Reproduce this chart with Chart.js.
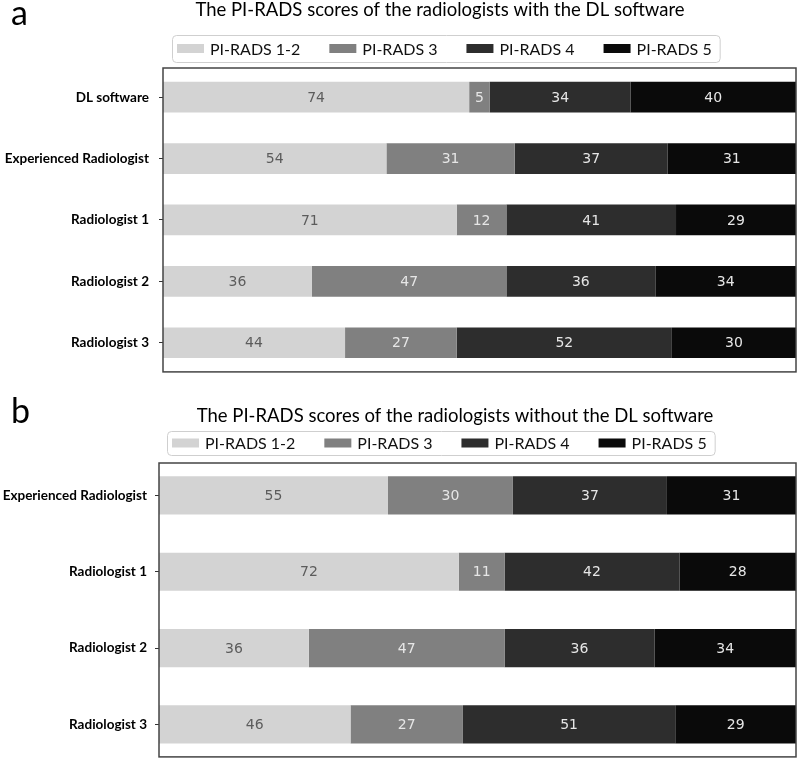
<!DOCTYPE html>
<html>
<head>
<meta charset="utf-8">
<script src="https://cdn.jsdelivr.net/npm/chart.js@4.4.0/dist/chart.umd.min.js"></script>
<style>
  body { margin: 0; background: #fff; }
  .panel { position: absolute; left: 0; width: 797px; }
  #panel-a { top: 0; height: 390px; }
  #panel-b { top: 390px; height: 383px; }
</style>
</head>
<body>
<div class="panel" id="panel-a"><canvas id="chart-a"></canvas></div>
<div class="panel" id="panel-b"><canvas id="chart-b"></canvas></div>
<script>
var seriesNames = ['PI-RADS 1-2', 'PI-RADS 3', 'PI-RADS 4', 'PI-RADS 5'];
var seriesColors = ['#d3d3d3', '#808080', '#2d2d2d', '#0a0a0a'];

/* a : with the DL software */
var readersA = ['DL software', 'Experienced Radiologist', 'Radiologist 1', 'Radiologist 2', 'Radiologist 3'];
var pirads12A = [74, 54, 71, 36, 44];
var pirads3A = [5, 31, 12, 47, 27];
var pirads4A = [34, 37, 41, 36, 52];
var pirads5A = [40, 31, 29, 34, 30];

/* b : without the DL software */
var readersB = ['Experienced Radiologist', 'Radiologist 1', 'Radiologist 2', 'Radiologist 3'];
var pirads12B = [55, 72, 36, 46];
var pirads3B = [30, 11, 47, 27];
var pirads4B = [37, 42, 36, 51];
var pirads5B = [31, 28, 34, 29];

/* frame round the plot area */
var framePlugin = {
    id: 'frame',
    afterDraw: function(chart){
        var a = chart.chartArea;
        var ctx = chart.ctx;
        ctx.save();
        ctx.strokeStyle = '#444';
        ctx.lineWidth = 1.5;
        ctx.strokeRect(a.left, a.top, a.right - a.left, a.bottom - a.top);
        ctx.restore();
    }
};

/* numbers inside each segment */
var barLabelPlugin = {
    id: 'barLabels',
    afterDatasetsDraw: function(chart){
        var ctx = chart.ctx;
        ctx.save();
        ctx.font = '14px "DejaVu Sans"';
        ctx.textAlign = 'center';
        ctx.textBaseline = 'middle';
        chart.data.datasets.forEach(function(ds, k){
            var meta = chart.getDatasetMeta(k);
            ctx.fillStyle = k == 0 ? '#5c5c5c' : '#e6e6e6';
            meta.data.forEach(function(el, i){
                ctx.fillText(String(ds.data[i].x), (el.x + el.base) / 2, el.y + 1);
            });
        });
        ctx.restore();
    }
};

/* panel letter, title and boxed legend */
var headerPlugin = {
    id: 'header',
    afterDraw: function(chart){
        var h = chart.options.plugins.header;
        var ctx = chart.ctx;
        ctx.save();
        ctx.fillStyle = '#000';
        ctx.textBaseline = 'alphabetic';
        ctx.font = '34px Lato';
        ctx.textAlign = 'left';
        ctx.fillText(h.letter, 11, h.letterY);
        ctx.font = '18.5px Lato';
        ctx.textAlign = 'center';
        ctx.fillText(h.title, h.titleX, h.titleY);

        ctx.font = '16px Lato';
        ctx.textAlign = 'left';
        ctx.textBaseline = 'middle';
        var swW = 27, swH = 9, gapIn = 6, gapOut = 29, padL = 5, padR = 8;
        var total = padL + padR;
        var widths = [];
        for(var i = 0; i < chart.data.datasets.length; i++){
            widths[i] = ctx.measureText(chart.data.datasets[i].label).width;
            total += swW + gapIn + widths[i];
            if(i > 0) total += gapOut;
        }
        var midY = (h.legendTop + h.legendBottom) / 2;
        ctx.strokeStyle = '#cfcfcf';
        ctx.lineWidth = 1;
        ctx.beginPath();
        ctx.roundRect(h.legendLeft + 0.5, h.legendTop + 0.5, total, h.legendBottom - h.legendTop, 4);
        ctx.stroke();
        var x = h.legendLeft + padL;
        for(var i = 0; i < chart.data.datasets.length; i++){
            var ds = chart.data.datasets[i];
            ctx.fillStyle = ds.backgroundColor;
            ctx.fillRect(x, midY - swH / 2, swW, swH);
            x += swW + gapIn;
            ctx.fillStyle = '#111';
            ctx.fillText(ds.label, x, midY + 1);
            x += widths[i] + gapOut;
        }
        ctx.restore();
    }
};

function makeChart(canvasId, readers, series, header, axisWidth, padding, tickPad){
    var datasets = [];
    for(var k = 0; k < series.length; k++){
        var pts = [];
        for(var i = 0; i < readers.length; i++){
            pts.push({x: series[k][i], y: i});
        }
        datasets.push({
            label: seriesNames[k],
            data: pts,
            backgroundColor: seriesColors[k],
            borderWidth: 0,
            categoryPercentage: 1,
            barPercentage: 0.5
        });
    }
    var total = 0;
    for(var i = 0; i < readers.length; i++){
        var s = 0;
        for(var k = 0; k < series.length; k++) s += series[k][i];
        total = Math.max(total, s);
    }
    // matplotlib style: bars 0.5 high, 5% margin on the y range
    var margin = 0.05 * (readers.length - 0.5);
    return new Chart(document.getElementById(canvasId), {
        type: 'bar',
        data: { datasets: datasets },
        options: {
            indexAxis: 'y',
            responsive: true,
            maintainAspectRatio: false,
            animation: false,
            layout: { padding: padding },
            plugins: {
                legend: { display: false },
                title: { display: false },
                tooltip: { enabled: false },
                header: header
            },
            scales: {
                x: {
                    type: 'linear',
                    stacked: true,
                    min: 0,
                    max: total,
                    display: false
                },
                y: {
                    type: 'linear',
                    stacked: true,
                    reverse: true,
                    offset: false,
                    min: -0.25 - margin,
                    max: readers.length - 0.75 + margin,
                    afterBuildTicks: function(scale){
                        scale.ticks = readers.map(function(r, i){ return {value: i}; });
                    },
                    afterFit: function(scale){
                        scale.width = axisWidth;
                    },
                    ticks: {
                        callback: function(v){ return readers[v]; },
                        font: { family: 'Lato', weight: 'bold', size: 13.5 },
                        color: '#000',
                        padding: tickPad
                    },
                    grid: {
                        offset: false,
                        drawOnChartArea: false,
                        drawTicks: true,
                        tickLength: 4,
                        color: '#333'
                    },
                    border: { display: false }
                }
            }
        },
        plugins: [framePlugin, barLabelPlugin, headerPlugin]
    });
}

var chartA = makeChart('chart-a', readersA, [pirads12A, pirads3A, pirads4A, pirads5A], {
    letter: 'a', letterY: 25,
    title: 'The PI-RADS scores of the radiologists with the DL software', titleX: 440, titleY: 16,
    legendLeft: 172, legendTop: 35, legendBottom: 62
}, 163, {top: 68, right: 1, bottom: 14, left: 0}, 10);

var chartB = makeChart('chart-b', readersB, [pirads12B, pirads3B, pirads4B, pirads5B], {
    letter: 'b', letterY: 33,
    title: 'The PI-RADS scores of the radiologists without the DL software', titleX: 455, titleY: 32,
    legendLeft: 167, legendTop: 41, legendBottom: 65
}, 159, {top: 73, right: 1, bottom: 2, left: 0}, 8);
</script>
</body>
</html>
